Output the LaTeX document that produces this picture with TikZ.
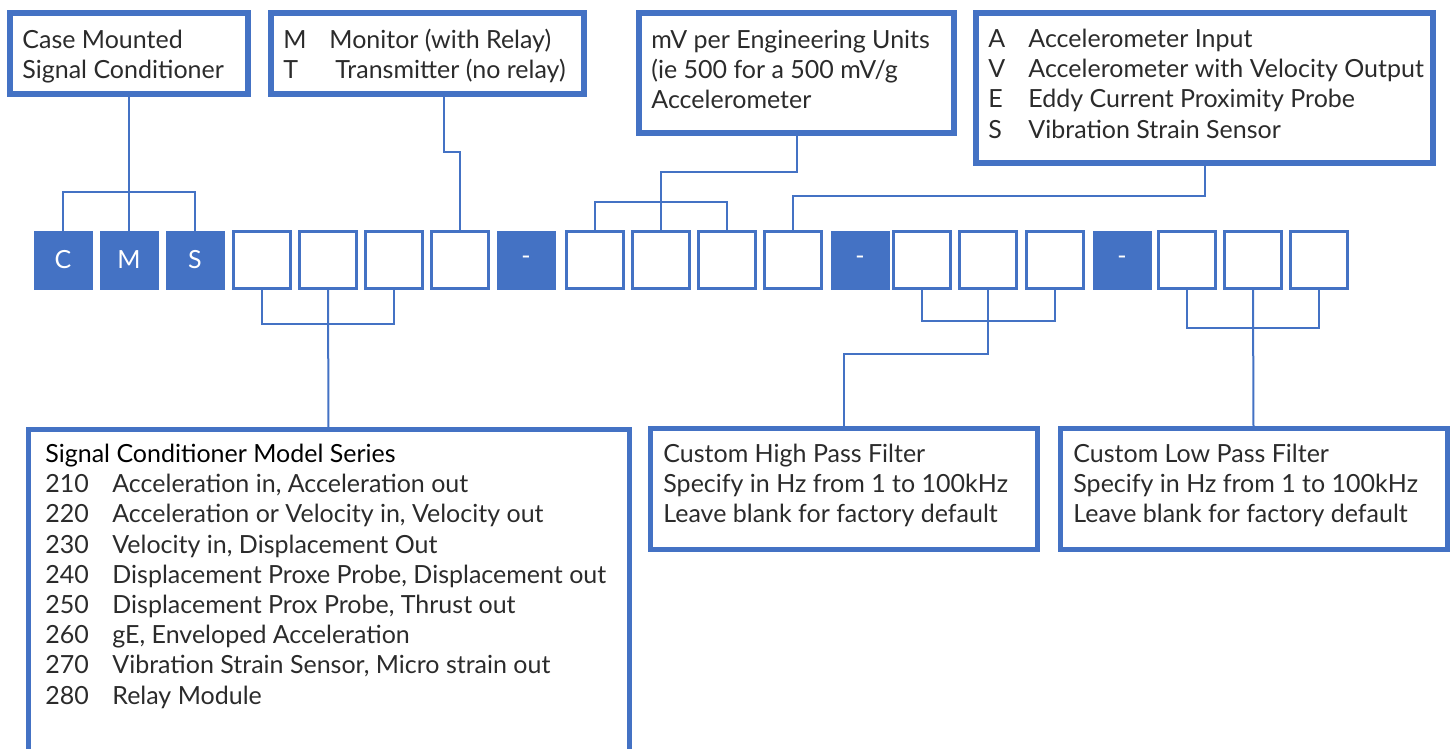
\documentclass[tikz,border=0pt]{standalone}
\usepackage{fontspec}
\setmainfont{Lato}
\definecolor{boxblue}{HTML}{4472C4}
\definecolor{ink}{HTML}{2B2B2B}

\begin{document}
\begin{tikzpicture}[x=0.5pt,y=-0.5pt,
    font=\fontsize{12.5}{15.1}\selectfont,
    infobox/.style={draw=boxblue,line width=3pt,inner sep=0pt,outer sep=0pt,anchor=north west},
    lowbox/.style={infobox,line width=2.5pt},
    txt/.style={text=ink,inner sep=0pt,anchor=north west},
    cell/.style={draw=boxblue,line width=1.5pt,fill=white,minimum size=28.5pt,inner sep=0pt},
    dark/.style={fill=boxblue,text=white,minimum size=28pt,inner sep=0pt},
    conn/.style={draw=boxblue,line width=1pt}]
  \useasboundingbox (0,0) rectangle (1452,749);

  % top explanation boxes
  \node[infobox,minimum width=119pt,minimum height=40.5pt] (case) at (10,13) {};
  \node[infobox,minimum width=156.5pt,minimum height=40.5pt] (mode) at (271,13) {};
  \node[infobox,minimum width=157.5pt,minimum height=60pt] (mv) at (639,13) {};
  \node[infobox,minimum width=228.5pt,minimum height=75pt] (sensor) at (976,13) {};

  \node[txt] (casetext) at (22,27) {\begin{tabular}{@{}l@{}}Case Mounted\\Signal Conditioner\end{tabular}};
  \node[txt] (modetext) at (283,27) {\begin{tabular}{@{}p{23pt}@{}l@{}}M & Monitor (with Relay)\\T & \hspace{3pt}Transmitter (no relay)\end{tabular}};
  \node[txt] (mvtext) at (651,27) {\begin{tabular}{@{}l@{}}mV per Engineering Units\\(ie 500 for a 500 mV/g\\Accelerometer\end{tabular}};
  \node[txt] (sensortext) at (988,26) {\begin{tabular}{@{}p{20pt}@{}l@{}}A & Accelerometer Input\\V & Accelerometer with Velocity Output\\E & Eddy Current Proximity Probe\\S & Vibration Strain Sensor\end{tabular}};

  % the code row
  \begin{scope}[every node/.style={cell}]
    \node[dark] (d1) at (63,260) {C};
    \node[dark] (d2) at (129,260) {M};
    \node[dark] (d3) at (195,260) {S};
    \node (d4) at (262,260) {};
    \node (d5) at (328,260) {};
    \node (d6) at (394,260) {};
    \node (d7) at (460,260) {};
    \node[dark] (d8) at (526,260) {-};
    \node (d9) at (595,260) {};
    \node (d10) at (661,260) {};
    \node (d11) at (727,260) {};
    \node (d12) at (793,260) {};
    \node[dark] (d13) at (860,260) {-};
    \node (d14) at (922,260) {};
    \node (d15) at (988,260) {};
    \node (d16) at (1055,260) {};
    \node[dark] (d17) at (1122,260) {-};
    \node (d18) at (1187,260) {};
    \node (d19) at (1253,260) {};
    \node (d20) at (1319,260) {};
  \end{scope}

  % bottom explanation boxes
  \node[lowbox,minimum width=300.5pt,minimum height=185.5pt] (series) at (28,429) {};
  \node[lowbox,minimum width=193.5pt,minimum height=60.5pt] (hpf) at (650,428.5) {};
  \node[lowbox,minimum width=193.5pt,minimum height=60.5pt] (lpf) at (1060,428.5) {};

  \node[txt] (seriestext) at (45,441) {\begin{tabular}{@{}p{33.5pt}@{}l@{}}
      \multicolumn{2}{@{}l@{}}{\color{black}Signal Conditioner Model Series}\\
      210 & Acceleration in, Acceleration out\\
      220 & Acceleration or Velocity in, Velocity out\\
      230 & Velocity in, Displacement Out\\
      240 & Displacement Proxe Probe, Displacement out\\
      250 & Displacement Prox Probe, Thrust out\\
      260 & gE, Enveloped Acceleration\\
      270 & Vibration Strain Sensor, Micro strain out\\
      280 & Relay Module\end{tabular}};
  \node[txt] (hpftext) at (663,441) {\begin{tabular}{@{}l@{}}Custom High Pass Filter\\Specify in Hz from 1 to 100kHz\\Leave blank for factory default\end{tabular}};
  \node[txt] (lpftext) at (1073,441) {\begin{tabular}{@{}l@{}}Custom Low Pass Filter\\Specify in Hz from 1 to 100kHz\\Leave blank for factory default\end{tabular}};

  % connectors
  \coordinate (j1) at (129,192);
  \coordinate (j2) at (460,152);
  \coordinate (j3) at (661,202);
  \coordinate (j5) at (328,324);
  \coordinate (j6) at (988,321);
  \coordinate (j7) at (1253,328);
  \draw[conn] (case.south) -- (j1);
  \draw[conn] (d1.north) |- (j1) -| (d3.north);
  \draw[conn] (j1) -- (d2.north);
  \draw[conn] ([xshift=8.25pt]mode.south) |- (j2) -- (d7.north);
  \draw[conn] (mv.south) -- ++(0,39) -| (j3);
  \draw[conn] (d9.north) |- (j3) -| (d11.north);
  \draw[conn] (j3) -- (d10.north);
  \draw[conn] (sensor.south) -- ++(0,33) -| (d12.north);
  \draw[conn] (d4.south) |- (j5) -| (d6.south);
  \draw[conn] (d5.south) -- (series.north);
  \draw[conn] (d14.south) |- (j6) -| (d16.south);
  \draw[conn] (d15.south) -- ++(0,63.5) -| (hpf.north);
  \draw[conn] (d18.south) |- (j7) -| (d20.south);
  \draw[conn] (d19.south) -- (lpf.north);
\end{tikzpicture}
\end{document}
